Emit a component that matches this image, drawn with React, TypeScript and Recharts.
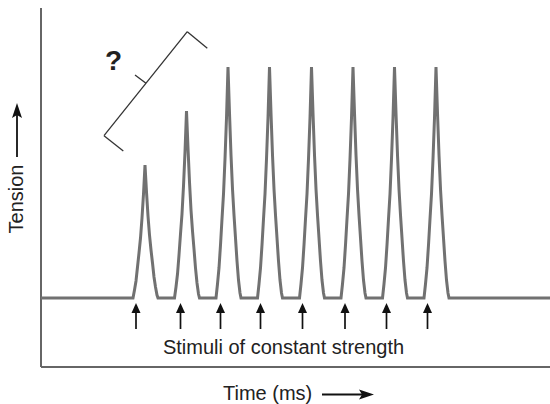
import React from 'react'
import {
  ComposedChart,
  Line,
  Scatter,
  XAxis,
  YAxis,
  ReferenceLine,
  Customized,
} from 'recharts'

// time (arbitrary ms units) and tension (arbitrary units), one row per twitch
const twitchTimes = [
  0,
  92, 93.5, 95, 96.5, 98, 99.5, 101, 102.5, 104, 105.5, 107, 108.5, 110, 111.5, 113, 114.5, 116, 117,
  133.5, 135, 136.5, 138, 139.5, 141, 142.5, 144, 145.5, 147, 148.5, 150, 151.5, 153, 154.5, 156, 157.5, 158.5,
  175, 176.5, 178, 179.5, 181, 182.5, 184, 185.5, 187, 188.5, 190, 191.5, 193, 194.5, 196, 197.5, 199, 200,
  216.5, 218, 219.5, 221, 222.5, 224, 225.5, 227, 228.5, 230, 231.5, 233, 234.5, 236, 237.5, 239, 240.5, 241.5,
  258.5, 260, 261.5, 263, 264.5, 266, 267.5, 269, 270.5, 272, 273.5, 275, 276.5, 278, 279.5, 281, 282.5, 283.5,
  300, 301.5, 303, 304.5, 306, 307.5, 309, 310.5, 312, 313.5, 315, 316.5, 318, 319.5, 321, 322.5, 324, 325,
  341.5, 343, 344.5, 346, 347.5, 349, 350.5, 352, 353.5, 355, 356.5, 358, 359.5, 361, 362.5, 364, 365.5, 366.5,
  383, 384.5, 386, 387.5, 389, 390.5, 392, 393.5, 395, 396.5, 398, 399.5, 401, 402.5, 404, 405.5, 407, 408,
  509,
]

const twitchTension = [
  0,
  0, 8, 17, 31, 45, 60, 80, 104, 133, 106, 82, 63, 48, 35, 21, 11, 3, 0,
  0, 11, 24, 43, 64, 84, 112, 146, 187, 150, 116, 88, 67, 49, 30, 15, 4, 0,
  0, 14, 30, 53, 79, 104, 139, 180, 231, 185, 143, 109, 83, 60, 37, 18, 5, 0,
  0, 14, 30, 53, 79, 104, 139, 180, 231, 185, 143, 109, 83, 60, 37, 18, 5, 0,
  0, 14, 30, 53, 79, 104, 139, 180, 231, 185, 143, 109, 83, 60, 37, 18, 5, 0,
  0, 14, 30, 53, 79, 104, 139, 180, 231, 185, 143, 109, 83, 60, 37, 18, 5, 0,
  0, 14, 30, 53, 79, 104, 139, 180, 231, 185, 143, 109, 83, 60, 37, 18, 5, 0,
  0, 14, 30, 53, 79, 104, 139, 180, 231, 185, 143, 109, 83, 60, 37, 18, 5, 0,
  0,
]

// stimulus times (arrows under the trace)
const stimulusTimes = [95, 139.5, 179.5, 219.5, 261.5, 304, 345.5, 386.5]
const stimulusLevel = -5

const X_MIN = 0
const X_MAX = 509
const Y_MIN = -69
const Y_MAX = 290

const trace = twitchTimes.map((t, i) => ({ t, v: twitchTension[i] }))
const stimuli = stimulusTimes.map((t) => ({ t, v: stimulusLevel }))

// bracket drawn over the first twitches, in data coordinates
const bracket = [
  [{ x: 146.3, y: 266.3 }, { x: 166.3, y: 249.7 }],
  [{ x: 146.3, y: 266.3 }, { x: 63, y: 162.3 }],
  [{ x: 63, y: 162.3 }, { x: 82.3, y: 147 }],
  [{ x: 105, y: 214.7 }, { x: 94, y: 223 }],
]

const FONT = '"Liberation Sans", Arial, Helvetica, sans-serif'

function StimulusArrow(props: any) {
  const { cx, cy } = props
  if (cx == null || cy == null) return null
  return (
    <g>
      <line x1={cx} y1={cy + 6} x2={cx} y2={cy + 26} stroke="#111" strokeWidth={1.7} />
      <path d={`M${cx},${cy} L${cx - 4.5},${cy + 10} L${cx + 4.5},${cy + 10} Z`} fill="#111" />
    </g>
  )
}

function Annotations() {
  return (
    <g fontFamily={FONT} fill="#222">
      <text x={113.5} y={70} fontSize={28} fontWeight="bold" textAnchor="middle">?</text>
      <text x={283.5} y={354} fontSize={20} textAnchor="middle">Stimuli of constant strength</text>
      <text x={223} y={400} fontSize={20}>Time (ms)</text>
      <line x1={322} y1={394.5} x2={364} y2={394.5} stroke="#111" strokeWidth={1.8} />
      <path d="M374,394.5 L359,389.5 L362,394.5 L359,399.5 Z" fill="#111" />
      <text x={23} y={199} fontSize={20} textAnchor="middle" transform="rotate(-90 23 199)">Tension</text>
      <line x1={17} y1={157} x2={17} y2={113} stroke="#111" strokeWidth={1.8} />
      <path d="M17,103 L12,118 L17,115 L22,118 Z" fill="#111" />
    </g>
  )
}

export default function App() {
  return (
    <div style={{ position: 'absolute', left: 0, top: 0 }}>
      <ComposedChart width={550} height={404} margin={{ top: 8, right: 0, left: 41, bottom: 37 }}>
        <XAxis type="number" dataKey="t" domain={[X_MIN, X_MAX]} allowDataOverflow hide />
        <YAxis type="number" dataKey="v" domain={[Y_MIN, Y_MAX]} allowDataOverflow hide />
        <ReferenceLine x={X_MIN} stroke="#666" strokeWidth={2} ifOverflow="visible" />
        <ReferenceLine y={Y_MIN} stroke="#666" strokeWidth={2} ifOverflow="visible" />
        {bracket.map((seg, i) => (
          <ReferenceLine key={i} segment={seg} stroke="#333" strokeWidth={1.3} ifOverflow="visible" />
        ))}
        <Line
          data={trace}
          dataKey="v"
          type="linear"
          stroke="#717171"
          strokeWidth={3}
          dot={false}
          isAnimationActive={false}
        />
        <Scatter data={stimuli} dataKey="v" shape={StimulusArrow} isAnimationActive={false} />
        <Customized component={Annotations} />
      </ComposedChart>
    </div>
  )
}
